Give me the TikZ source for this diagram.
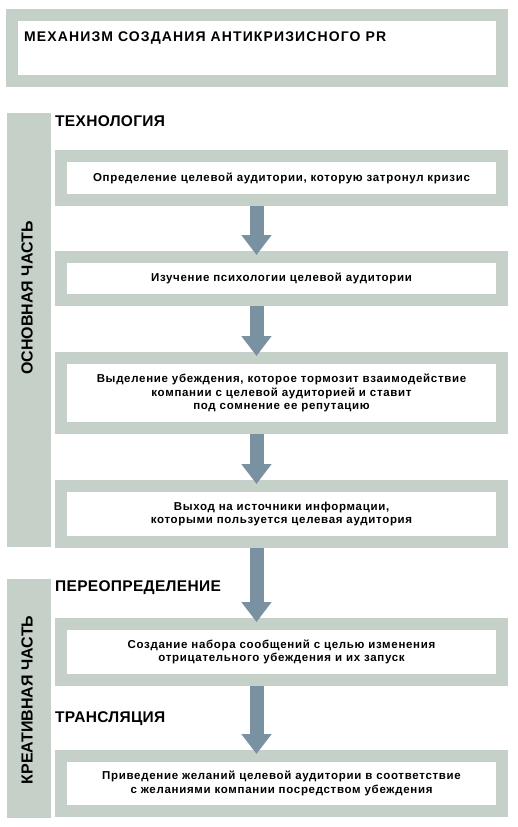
\documentclass[tikz,border=0pt]{standalone}
\usepackage{fontspec}
\setmainfont{Liberation Sans}
\newfontfamily\stepfont[LetterSpace=6]{Liberation Sans}
\newfontfamily\titlefont[LetterSpace=8]{Liberation Sans}
\newfontfamily\headfont[LetterSpace=2]{Liberation Sans}
\usetikzlibrary{arrows.meta}
\definecolor{bandgreen}{RGB}{197,209,200}
\definecolor{arrowblue}{RGB}{122,145,161}
\tikzset{
  stepbox/.style={rectangle, fill=white, draw=bandgreen, line width=12pt,
    minimum width=441pt, outer sep=6pt, inner sep=0pt, align=center,
    font=\stepfont\bfseries\fontsize{11.5}{13.5}\selectfont},
  band/.style={rectangle, fill=bandgreen, minimum width=44pt, inner sep=0pt},
  heading/.style={anchor=base west, inner sep=0pt, font=\headfont\bfseries\fontsize{15.5}{18}\selectfont},
  sidelabel/.style={rotate=90, inner sep=0pt, font=\bfseries\fontsize{16}{18}\selectfont},
  flowarrow/.style={draw=arrowblue, line width=14pt, -{Triangle[width=29pt,length=20pt]}, shorten >=-4pt}
}
\begin{document}
\begin{tikzpicture}[x=1pt,y=-1pt]
\useasboundingbox (0,0) rectangle (517,827);
% title
\node[rectangle, fill=white, draw=bandgreen, line width=12pt, minimum width=490pt, minimum height=66pt, inner sep=0pt] (titlebox) at (257,48) {};
\node[anchor=base west, inner sep=0pt, font=\titlefont\bfseries\fontsize{14}{16}\selectfont] (title) at (24,41.3) {МЕХАНИЗМ СОЗДАНИЯ АНТИКРИЗИСНОГО PR};
% bands
\node[band, minimum height=434pt] (band1) at (29,330) {};
\node[band, minimum height=239pt] (band2) at (29,698.5) {};
\node[sidelabel] (lab1) at (27,298) {ОСНОВНАЯ ЧАСТЬ};
\node[sidelabel] (lab2) at (27,700) {КРЕАТИВНАЯ ЧАСТЬ};
% headings
\node[heading] (h1) at (55,126) {ТЕХНОЛОГИЯ};
\node[heading] (h2) at (55,591) {ПЕРЕОПРЕДЕЛЕНИЕ};
\node[heading] (h3) at (55,722) {ТРАНСЛЯЦИЯ};
% steps
\node[stepbox, minimum height=44pt] (s1) at (281.5,178) {Определение целевой аудитории, которую затронул кризис};
\node[stepbox, minimum height=43pt] (s2) at (281.5,278.5) {Изучение психологии целевой аудитории};
\node[stepbox, minimum height=70pt] (s3) at (281.5,393) {Выделение убеждения, которое тормозит взаимодействие\\компании с целевой аудиторией и ставит\\под сомнение ее репутацию};
\node[stepbox, minimum height=56pt] (s4) at (281.5,514) {Выход на источники информации,\\которыми пользуется целевая аудитория};
\node[stepbox, minimum height=56pt] (s5) at (281.5,652) {Создание набора сообщений с целью изменения\\отрицательного убеждения и их запуск};
\node[stepbox, minimum height=55pt] (s6) at (281.5,783.5) {Приведение желаний целевой аудитории в соответствие\\с желаниями компании посредством убеждения};
% arrows
\coordinate (ax) at (256.5,0);
\draw[flowarrow] (s1.south -| ax) -- (s2.north -| ax);
\draw[flowarrow] (s2.south -| ax) -- (s3.north -| ax);
\draw[flowarrow] (s3.south -| ax) -- (s4.north -| ax);
\draw[flowarrow] (s4.south -| ax) -- (s5.north -| ax);
\draw[flowarrow] (s5.south -| ax) -- (s6.north -| ax);
\end{tikzpicture}
\end{document}
